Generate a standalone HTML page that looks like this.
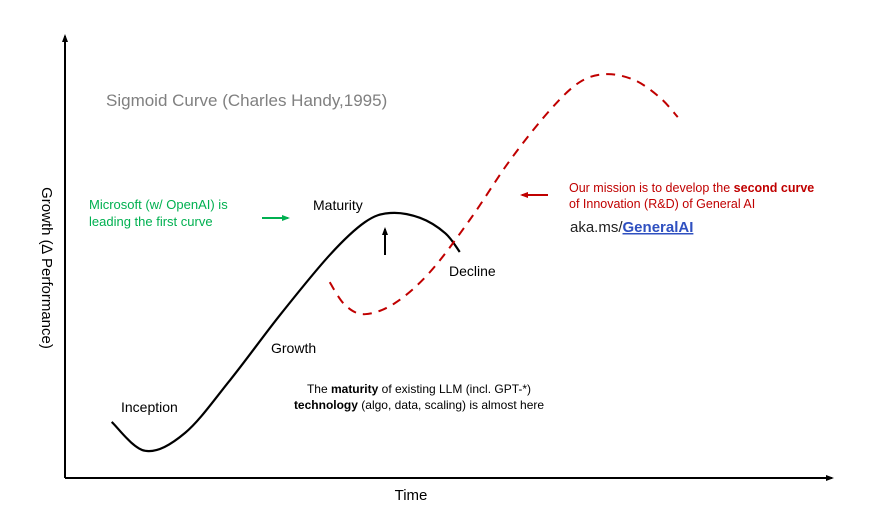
<!DOCTYPE html>
<html><head><meta charset="utf-8"><style>
html,body{margin:0;padding:0;background:#fff;}
svg{display:block;font-family:"Liberation Sans",sans-serif;}
</style></head><body>
<svg id="chart" width="873" height="529" viewBox="0 0 873 529">
<defs>
<marker id="ah" markerUnits="userSpaceOnUse" markerWidth="8" markerHeight="8" refX="6" refY="4" orient="auto"><path d="M0,1 L8,4 L0,7 z" fill="#000"/></marker>
<marker id="ahg" markerUnits="userSpaceOnUse" markerWidth="8" markerHeight="8" refX="6" refY="4" orient="auto"><path d="M0,1 L8,4 L0,7 z" fill="#00b050"/></marker>
<marker id="ahr" markerUnits="userSpaceOnUse" markerWidth="8" markerHeight="8" refX="6" refY="4" orient="auto"><path d="M0,1 L8,4 L0,7 z" fill="#c00000"/></marker>
</defs>
<line x1="65" y1="478" x2="65" y2="36" stroke="#000" stroke-width="2" marker-end="url(#ah)"/>
<line x1="65" y1="478" x2="832" y2="478" stroke="#000" stroke-width="2" marker-end="url(#ah)"/>
<text x="411" y="500" font-size="15" text-anchor="middle">Time</text>
<text transform="translate(42,268) rotate(90)" font-size="15" text-anchor="middle">Growth (∆ Performance)</text>
<text x="106" y="106" font-size="17" fill="#808080">Sigmoid Curve (Charles Handy,1995)</text>
<path id="c1" fill="none" stroke="#000" stroke-width="2.2"/>
<path id="c2" fill="none" stroke="#c00000" stroke-width="2" stroke-dasharray="9,7"/>
<line x1="385" y1="255" x2="385" y2="229" stroke="#000" stroke-width="2" marker-end="url(#ah)"/>
<line x1="262" y1="218" x2="288" y2="218" stroke="#00b050" stroke-width="2" marker-end="url(#ahg)"/>
<line x1="548" y1="195" x2="522" y2="195" stroke="#c00000" stroke-width="2" marker-end="url(#ahr)"/>
<text x="89" y="209" font-size="13" fill="#00b050"><tspan x="89">Microsoft (w/ OpenAI) is</tspan><tspan x="89" dy="17">leading the first curve</tspan></text>
<text x="313" y="210" font-size="14">Maturity</text>
<text x="449" y="276" font-size="14">Decline</text>
<text x="271" y="353" font-size="14">Growth</text>
<text x="121" y="412" font-size="14">Inception</text>
<text x="419" y="393" font-size="12" text-anchor="middle">The <tspan font-weight="bold">maturity</tspan> of existing LLM (incl. GPT-*)<tspan x="419" dy="16"><tspan font-weight="bold">technology</tspan> (algo, data, scaling) is almost here</tspan></text>
<text x="569" y="192" font-size="12.5" fill="#c00000">Our mission is to develop the <tspan font-weight="bold">second curve</tspan><tspan x="569" dy="16">of Innovation (R&amp;D) of General AI</tspan></text>
<text x="570" y="232" font-size="15" fill="#222">aka.ms/<tspan fill="#2f50c0" font-weight="bold" text-decoration="underline">GeneralAI</tspan></text>
</svg>
<script>
const firstT=[6.1,10.5,15.7,21.6,28.1,34.6,39.2,42.5,46.4,49.7,51.6];
const firstG=[12.8,6.2,10.3,22.4,37.2,50.9,58.4,60.5,59.4,55.9,51.6];
const secondT=[34.6,36.6,39.2,43.1,47.7,52.9,58.2,63.4,67.3,70.8,74.5,77.8,80.1];
const secondG=[44.7,39.5,37.4,39.9,47.0,58.9,72.6,84.0,90.4,92.2,90.8,86.8,82.4];
function xS(t){return 65+t*7.65;}
function yS(g){return 478-g*4.38;}
function pathFor(T,G){
  const p=T.map((t,i)=>[xS(t),yS(G[i])]);
  let d="M"+p[0][0]+","+p[0][1];
  for(let i=0;i<p.length-1;i++){
    const p0=p[i-1]||p[i],p1=p[i],p2=p[i+1],p3=p[i+2]||p2;
    const c1=[p1[0]+(p2[0]-p0[0])/6,p1[1]+(p2[1]-p0[1])/6];
    const c2=[p2[0]-(p3[0]-p1[0])/6,p2[1]-(p3[1]-p1[1])/6];
    d+=" C"+c1+" "+c2+" "+p2;
  }
  return d;
}
document.getElementById('c1').setAttribute('d',pathFor(firstT,firstG));
document.getElementById('c2').setAttribute('d',pathFor(secondT,secondG));
</script>
</body></html>
